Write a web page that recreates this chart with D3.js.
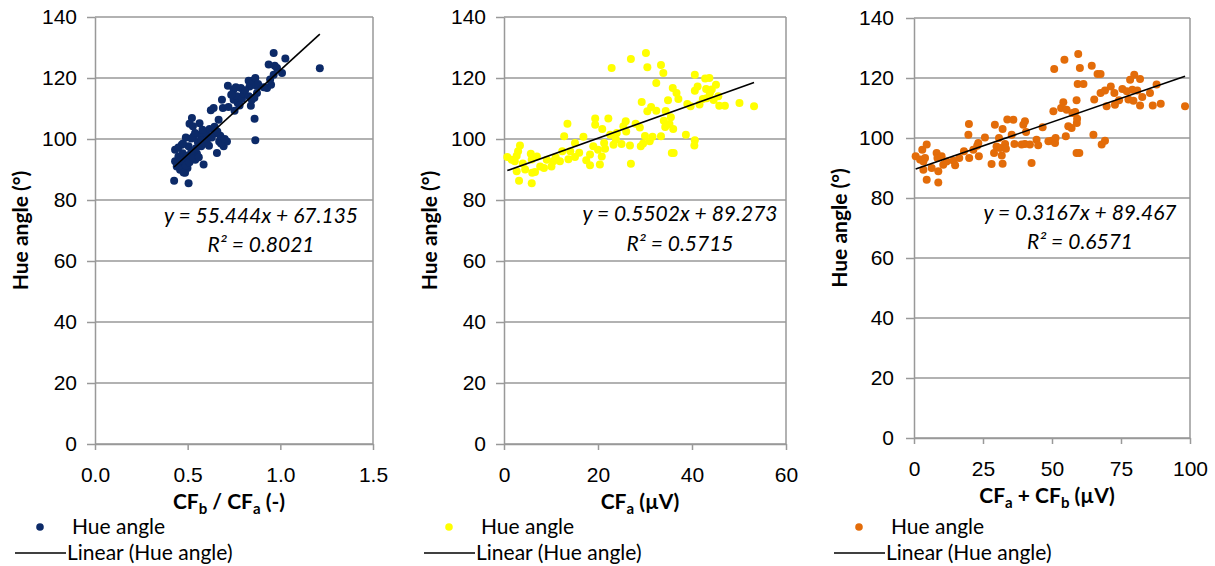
<!DOCTYPE html>
<html>
<head>
<meta charset="utf-8">
<script src="https://cdn.jsdelivr.net/npm/d3@7/dist/d3.min.js"></script>
<style>
body { margin: 0; background: #fff; }
svg { font-family: Lato, "Open Sans", sans-serif; }
</style>
</head>
<body>
<div id="chart"></div>
<script>

// hue angle against CFb / CFa (-)
var ratioPoints = [
    [0.427,86.3],[0.505,85.5],[0.432,96.5],[0.432,92.7],[0.441,91.0],[0.450,94.3],[0.459,89.9],[0.468,98.1],
    [0.473,95.3],[0.481,92.1],[0.486,88.9],[0.495,93.6],[0.499,90.5],[0.505,97.6],[0.510,105.0],[0.523,106.9],
    [0.528,104.2],[0.532,100.9],[0.541,93.2],[0.550,95.2],[0.564,105.2],[0.568,101.4],[0.573,97.6],[0.586,91.6],
    [0.600,101.4],[0.618,103.3],[0.625,109.4],[0.640,110.2],[0.649,101.9],[0.658,95.4],[0.667,106.3],[0.670,99.2],
    [0.676,101.1],[0.685,112.9],[0.690,110.2],[0.694,97.6],[0.712,99.2],[0.717,117.5],[0.748,116.2],[0.748,112.9],
    [0.753,109.3],[0.766,114.0],[0.770,111.8],[0.787,116.7],[0.793,113.1],[0.802,114.9],[0.829,119.1],[0.834,117.2],
    [0.841,110.9],[0.846,112.9],[0.850,119.1],[0.865,120.0],[0.870,117.5],[0.861,106.6],[0.865,99.6],[0.874,115.1],
    [0.928,116.7],[0.937,124.4],[0.950,117.8],[0.964,128.2],[0.964,121.1],[0.982,123.3],[1.009,121.6],[1.027,126.4],
    [1.213,123.2],[0.455,91.5],[0.462,93.0],[0.470,90.2],[0.478,89.0],[0.490,91.2],[0.500,94.5],[0.510,92.4],
    [0.520,96.0],[0.530,93.8],[0.545,97.0],[0.555,99.0],[0.560,94.0],[0.575,99.5],[0.590,98.5],[0.605,99.8],
    [0.615,97.8],[0.630,100.5],[0.645,104.0],[0.660,102.5],[0.680,98.5],[0.700,100.0],[0.720,110.5],[0.735,114.5],
    [0.760,117.0],[0.780,111.0],[0.810,116.0],[0.830,114.0],[0.860,113.5],[0.880,118.0],[0.910,117.0],[0.945,119.5],
    [0.970,124.0],[0.450,97.2],[0.475,98.5],[0.490,100.5],[0.520,100.2],[0.540,102.0],[0.580,103.0]
];

// hue angle against CFa (µV)
var cfaPoints = [
    [0.7,94.1],[1.6,93.2],[2.3,92.7],[2.7,94.5],[3.0,96.0],[3.4,97.9],[3.2,86.3],[2.7,89.4],[4.5,90.0],[5.7,95.2],
    [5.9,93.3],[6.0,88.9],[5.9,85.5],[6.6,89.2],[7.0,94.3],[7.7,91.0],[9.1,93.2],[10.1,91.0],[10.5,92.7],[11.9,92.7],
    [12.4,96.0],[12.8,100.9],[13.5,105.0],[13.7,93.4],[14.1,96.0],[15.1,94.1],[15.1,98.7],[16.9,100.7],[18.3,94.9],
    [18.3,91.4],[19.0,97.6],[19.4,106.7],[19.4,104.7],[20.0,96.5],[20.4,91.6],[20.8,94.3],[20.9,103.3],[21.3,98.7],
    [21.5,96.8],[22.2,106.7],[22.9,123.3],[23.3,98.1],[23.8,99.8],[22.6,101.4],[25.0,98.4],[25.4,104.2],[25.9,105.8],
    [26.0,102.5],[26.8,97.9],[27.0,126.2],[27.0,91.9],[28.9,103.8],[29.1,97.6],[29.3,112.1],[29.6,98.5],[30.2,128.2],
    [30.5,123.5],[30.5,109.1],[31.0,99.3],[31.3,110.5],[31.6,100.7],[32.4,118.4],[32.4,109.3],[33.4,124.3],[33.4,100.9],
    [33.9,121.6],[34.3,103.9],[34.4,109.2],[34.9,112.7],[35.2,104.9],[35.5,107.1],[35.7,95.4],[36.1,95.4],[35.9,116.7],
    [36.0,103.3],[36.7,115.1],[37.1,113.1],[38.7,101.4],[39.7,110.7],[40.5,97.9],[40.6,99.6],[40.6,121.1],[40.6,115.8],
    [41.2,117.2],[41.6,111.3],[42.3,113.1],[42.8,119.8],[43.0,116.4],[43.1,113.4],[43.7,120.0],[43.8,115.0],[44.2,116.2],
    [44.6,112.8],[45.1,117.8],[45.6,114.0],[45.8,110.9],[47.0,110.9],[50.1,111.8],[53.2,110.7],[4.0,92.0],[8.5,90.5],
    [11.0,94.0],[16.0,95.5],[17.5,93.0],[24.0,102.0],[28.0,105.0],[30.0,101.0],[34.0,106.0],[39.0,111.5]
];

// hue angle against CFa + CFb (µV)
var sumPoints = [
    [0.6,93.9],[2.2,92.8],[3.4,92.2],[3.0,96.1],[4.6,97.8],[4.0,93.3],[3.4,89.4],[4.6,86.1],[6.4,90.0],[8.2,95.0],
    [8.5,93.3],[8.8,88.9],[8.8,85.2],[10.0,93.9],[10.6,91.1],[11.8,92.2],[14.3,92.4],[14.9,90.9],[16.4,93.3],[18.1,95.6],
    [19.7,101.1],[19.9,104.7],[20.0,93.3],[21.5,96.1],[22.9,97.4],[23.3,98.3],[23.5,93.9],[25.7,100.2],[28.1,91.3],
    [29.0,95.0],[29.3,104.4],[29.9,97.2],[30.8,100.0],[31.2,96.7],[31.8,94.2],[32.1,91.4],[32.1,103.0],[33.0,98.0],
    [33.3,96.4],[33.8,106.2],[35.4,101.1],[36.0,106.1],[36.4,98.0],[39.0,97.8],[39.6,104.4],[40.2,105.6],[40.6,102.0],
    [40.2,98.0],[42.0,97.8],[42.6,91.7],[44.4,99.4],[45.0,97.6],[46.6,103.6],[48.7,98.9],[49.9,99.1],[50.5,108.9],
    [50.8,123.0],[51.1,98.3],[51.3,100.0],[53.3,110.0],[54.1,111.9],[54.5,126.1],[55.0,100.6],[55.3,109.4],[55.9,103.9],
    [57.1,103.3],[57.4,108.3],[58.4,108.7],[58.9,112.6],[58.9,95.0],[59.5,128.0],[59.9,95.0],[59.1,106.4],[59.0,105.0],
    [59.3,118.0],[60.1,123.3],[61.4,118.0],[64.4,124.1],[65.0,101.1],[65.3,112.8],[66.5,121.3],[67.6,121.3],[67.6,115.0],
    [68.0,97.8],[69.2,115.8],[69.2,99.1],[69.8,110.6],[71.3,117.2],[72.6,115.0],[72.8,111.1],[74.3,112.6],[75.5,116.3],
    [77.1,115.6],[77.7,112.8],[78.3,119.4],[79.1,116.1],[79.5,112.4],[79.8,121.1],[80.9,115.8],[81.9,119.7],[81.9,110.8],
    [82.7,113.7],[85.5,115.0],[86.5,110.8],[87.9,117.8],[89.4,111.4],[98.2,110.6]
];

// trendline coefficients [slope, intercept] and their labels
var trendCoefs = [[55.444, 67.135], [0.5502, 89.273], [0.3167, 89.467]];
var eqLabels = ["y = 55.444x + 67.135", "y = 0.5502x + 89.273", "y = 0.3167x + 89.467"];
var r2Labels = ["R² = 0.8021", "R² = 0.5715", "R² = 0.6571"];

// axes
var xDomains = [[0, 1.5], [0, 60], [0, 100]];
var xTickValues = [[0, 0.5, 1.0, 1.5], [0, 20, 40, 60], [0, 25, 50, 75, 100]];
var yTickValues = [0, 20, 40, 60, 80, 100, 120, 140];
// axis titles as [text, subscript] pieces
var xTitles = [
    [["CF", "b"], [" / CF", "a"], [" (-)", ""]],
    [["CF", "a"], [" (µV)", ""]],
    [["CF", "a"], [" + CF", "b"], [" (µV)", ""]]
];
var yTitle = "Hue angle (°)";
var seriesName = "Hue angle";
var trendName = "Linear (Hue angle)";

var width = 1215, height = 566;
var svg = d3.select("#chart").append("svg")
    .attr("width", width)
    .attr("height", height);

var gridColor = "#999";
var fontSize = "21px";

function drawPanel(i, points, color, box, eqBox) {

    var x = d3.scaleLinear().domain(xDomains[i]).range([box.left, box.right]);
    var y = d3.scaleLinear().domain([0, 140]).range([box.bottom, box.top]);

    var g = svg.append("g");

    // horizontal gridlines
    g.append("g")
        .selectAll("line")
        .data(yTickValues)
        .enter().append("line")
        .attr("x1", box.left)
        .attr("x2", box.right)
        .attr("y1", function(d) { return y(d); })
        .attr("y2", function(d) { return y(d); })
        .attr("stroke", gridColor)
        .attr("stroke-width", 1.5);

    // right border of the plot area
    g.append("line")
        .attr("x1", box.right).attr("x2", box.right)
        .attr("y1", box.top).attr("y2", box.bottom)
        .attr("stroke", gridColor)
        .attr("stroke-width", 1.5);

    // y axis
    var yAxis = g.append("g")
        .attr("transform", "translate(" + box.left + ",0)")
        .call(d3.axisLeft(y).tickValues(yTickValues).tickSize(8).tickPadding(box.yPad).tickSizeOuter(0));

    // x axis
    var xAxis = g.append("g")
        .attr("transform", "translate(0," + box.bottom + ")")
        .call(d3.axisBottom(x).tickValues(xTickValues[i]).tickSize(6).tickSizeOuter(0)
            .tickFormat(i == 0 ? d3.format(".1f") : d3.format("d")));

    [yAxis, xAxis].forEach(function(a) {
        a.select(".domain").attr("stroke", gridColor).attr("stroke-width", 1.5);
        a.selectAll(".tick line").attr("stroke", gridColor).attr("stroke-width", 1.5);
        a.selectAll(".tick text")
            .attr("fill", "#000")
            .style("font-size", fontSize);
    });
    xAxis.selectAll(".tick text").attr("y", 38).attr("dy", 0);

    // scatter points
    g.append("g")
        .selectAll("circle")
        .data(points)
        .enter().append("circle")
        .attr("cx", function(d) { return x(d[0]); })
        .attr("cy", function(d) { return y(d[1]); })
        .attr("r", 4)
        .attr("fill", color);

    // linear trendline across the data range
    var ext = d3.extent(points, function(d) { return d[0]; });
    var coef = trendCoefs[i];
    g.append("path")
        .datum(ext)
        .attr("d", d3.line()
            .x(function(d) { return x(d); })
            .y(function(d) { return y(coef[0] * d + coef[1]); }))
        .attr("stroke", "#000")
        .attr("stroke-width", 1.6)
        .attr("fill", "none");

    // equation and R squared
    [[eqLabels[i], eqBox.y1], [r2Labels[i], eqBox.y2]].forEach(function(t) {
        g.append("text")
            .attr("x", eqBox.cx).attr("y", t[1])
            .attr("text-anchor", "middle")
            .style("font-style", "italic")
            .style("font-size", fontSize)
            .text(t[0]);
    });

    // y title
    g.append("text")
        .attr("transform", "translate(" + (box.left - 67) + "," + ((box.top + box.bottom) / 2) + ") rotate(-90)")
        .attr("text-anchor", "middle")
        .style("font-weight", "bold")
        .style("font-size", fontSize)
        .text(yTitle);

    // x title with subscripts
    var xt = g.append("text")
        .attr("x", (box.left + box.right) / 2 - 5)
        .attr("y", box.bottom + 65)
        .attr("text-anchor", "middle")
        .style("font-weight", "bold")
        .style("font-size", fontSize);
    var shift = 0;
    xTitles[i].forEach(function(p) {
        xt.append("tspan").attr("dy", -shift).text(p[0]);
        shift = 0;
        if (p[1]) {
            xt.append("tspan").attr("dy", 5).style("font-size", "15px").text(p[1]);
            shift = 5;
        }
    });

    // legend
    var lg = g.append("g");
    lg.append("circle")
        .attr("cx", box.left - 55).attr("cy", 527)
        .attr("r", 3.8)
        .attr("fill", color);
    lg.append("text")
        .attr("x", box.left - 23).attr("y", 534)
        .style("font-size", fontSize)
        .text(seriesName);
    lg.append("line")
        .attr("x1", box.left - 80).attr("x2", box.left - 29)
        .attr("y1", 553).attr("y2", 553)
        .attr("stroke", "#000")
        .attr("stroke-width", 1.6);
    lg.append("text")
        .attr("x", box.left - 28).attr("y", 560)
        .style("font-size", fontSize)
        .text(trendName);
}

drawPanel(0, ratioPoints, "#0c2a68", {left: 95, right: 373, top: 17, bottom: 444, yPad: 10}, {cx: 261, y1: 223, y2: 252});
drawPanel(1, cfaPoints, "#ffff00", {left: 504, right: 786, top: 17, bottom: 444, yPad: 10}, {cx: 680, y1: 221, y2: 251});
drawPanel(2, sumPoints, "#e36c09", {left: 914, right: 1190, top: 18, bottom: 438, yPad: 12}, {cx: 1080, y1: 220, y2: 249});

</script>
</body>
</html>
